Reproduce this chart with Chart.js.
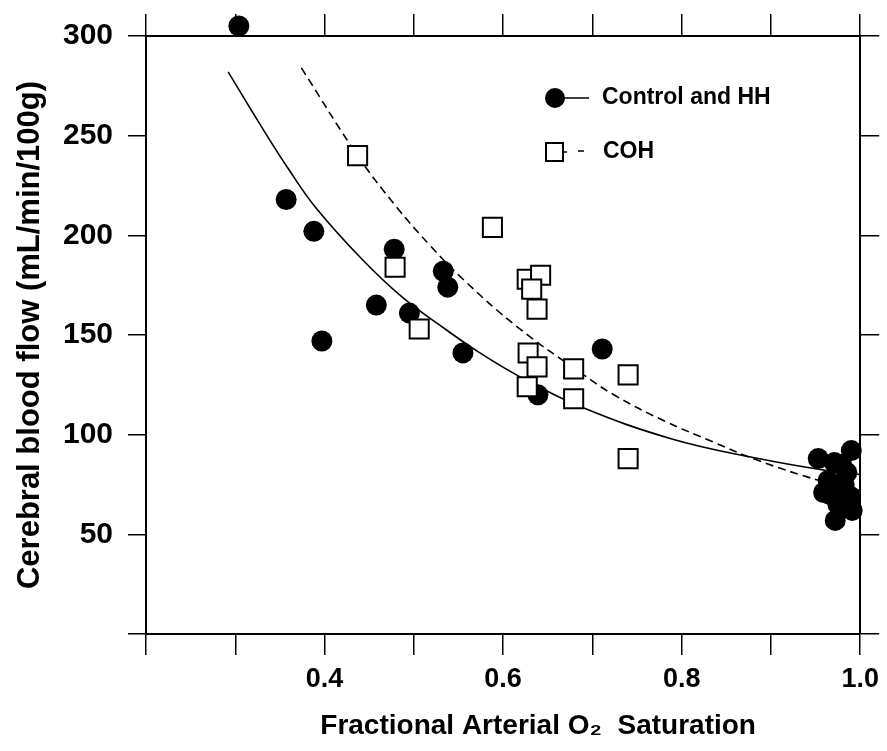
<!DOCTYPE html>
<html>
<head>
<meta charset="utf-8">
<script src="https://cdn.jsdelivr.net/npm/chart.js@4.4.1/dist/chart.umd.min.js"></script>
<style>
    html, body { margin: 0; padding: 0; background: #fff; }
    #wrap { width: 887px; height: 751px; }
</style>
</head>
<body>
<div id="wrap"><canvas id="cbf" width="887" height="751"></canvas></div>
<script>
// Cerebral blood flow vs fractional arterial O2 saturation

const controlX = [0.304, 0.357, 0.388, 0.397, 0.458, 0.478, 0.495, 0.533, 0.538, 0.555, 0.639, 0.711,
    0.953, 0.990, 0.971, 0.985, 0.964, 0.982, 0.966, 0.989, 0.975, 0.991, 0.972, 0.959, 0.979, 0.965];
const controlY = [305, 218, 202, 147, 165, 193, 161, 182, 174, 141, 120, 143,
    88, 92, 86, 81, 77, 75, 70, 69, 65, 62, 57, 71, 85, 71];

const cohX = [0.437, 0.588, 0.479, 0.506, 0.627, 0.642, 0.632, 0.638, 0.628, 0.638, 0.627, 0.679, 0.679, 0.740, 0.740];
const cohY = [240, 204, 184, 153, 178, 180, 173, 163, 141, 134, 124, 133, 118, 130, 88];

// fitted curves
const controlFitX = [0.292, 0.330, 0.360, 0.390, 0.442, 0.487, 0.532, 0.574, 0.619, 0.687, 0.788, 0.886, 0.962, 1.0];
const controlFitY = [282, 254, 233, 214, 188, 169, 154, 141, 129, 114, 98, 88, 82, 80];

const cohFitX = [0.374, 0.437, 0.481, 0.518, 0.555, 0.616, 0.687, 0.724, 0.780, 0.837, 0.886, 0.954, 1.0];
const cohFitY = [284, 240, 214, 195, 178, 154, 131, 120, 107, 96, 87, 77, 72];

const xLabels = { 4: '0.4', 6: '0.6', 8: '0.8', 10: '1.0' };
const yTicks = [50, 100, 150, 200, 250, 300];

const legendLabels = ['Control and HH', 'COH'];

function toPoints(xs, ys) {
    return xs.map((x, i) => ({ x: x, y: ys[i] }));
}

Chart.defaults.font.family = "'Liberation Sans', Arial, sans-serif";
Chart.defaults.color = '#000';

// legend drawn inside the plot, marker + line sample + text
const insideLegend = {
    id: 'insideLegend',
    afterDraw(chart) {
        const ctx = chart.ctx;
        const area = chart.chartArea;
        const mx = area.left + 409;
        const rows = [area.top + 62, area.top + 116];

        ctx.save();
        ctx.strokeStyle = '#000';
        ctx.fillStyle = '#000';

        // filled circle with solid line
        ctx.beginPath();
        ctx.arc(mx, rows[0], 10, 0, Math.PI * 2);
        ctx.fill();
        ctx.lineWidth = 1.5;
        ctx.beginPath();
        ctx.moveTo(mx + 8, rows[0]);
        ctx.lineTo(mx + 34, rows[0]);
        ctx.stroke();

        // open square with dashes
        ctx.lineWidth = 2;
        ctx.fillStyle = '#fff';
        ctx.fillRect(mx - 9, rows[1] - 9, 17, 18);
        ctx.strokeRect(mx - 9, rows[1] - 9, 17, 18);
        ctx.lineWidth = 1.5;
        ctx.beginPath();
        ctx.moveTo(mx + 8, rows[1]);
        ctx.lineTo(mx + 12, rows[1]);
        ctx.moveTo(mx + 23, rows[1] - 1);
        ctx.lineTo(mx + 29, rows[1] - 1);
        ctx.stroke();

        ctx.fillStyle = '#000';
        ctx.font = "bold 23px 'Liberation Sans', Arial, sans-serif";
        ctx.textBaseline = 'middle';
        ctx.textAlign = 'left';
        ctx.fillText(legendLabels[0], mx + 47, rows[0]);
        ctx.fillText(legendLabels[1], mx + 48, rows[1]);
        ctx.restore();
    }
};

const edgeGrid = (len) => ({
    drawOnChartArea: false,
    drawTicks: true,
    tickLength: len,
    color: '#000',
    lineWidth: 1.5
});
const edgeBorder = { display: true, color: '#000', width: 2 };

new Chart(document.getElementById('cbf').getContext('2d'), {
    type: 'scatter',
    data: {
        datasets: [
            {
                label: legendLabels[1],
                data: toPoints(cohX, cohY),
                pointStyle: 'rect',
                pointRadius: 13.5,
                backgroundColor: '#fff',
                borderColor: '#000',
                borderWidth: 2
            },
            {
                label: legendLabels[0],
                data: toPoints(controlX, controlY),
                pointStyle: 'circle',
                pointRadius: 10.5,
                backgroundColor: '#000',
                borderColor: '#000',
                borderWidth: 0,
                clip: false
            },
            {
                label: 'COH fit',
                data: toPoints(cohFitX, cohFitY),
                showLine: true,
                pointRadius: 0,
                borderColor: '#000',
                borderWidth: 1.6,
                borderDash: [8, 5],
                tension: 0.4
            },
            {
                label: 'Control fit',
                data: toPoints(controlFitX, controlFitY),
                showLine: true,
                pointRadius: 0,
                borderColor: '#000',
                borderWidth: 1.6,
                tension: 0.4
            }
        ]
    },
    options: {
        responsive: false,
        animation: false,
        layout: { padding: 0 },
        plugins: {
            legend: { display: false },
            tooltip: { enabled: false }
        },
        scales: {
            x: {
                type: 'linear',
                position: 'bottom',
                min: 0.2,
                max: 1.0,
                afterFit: (s) => { s.height = 117; },
                ticks: {
                    stepSize: 0.1,
                    autoSkip: false,
                    maxRotation: 0,
                    padding: 8,
                    font: { size: 27, weight: 'bold' },
                    callback: (v) => xLabels[Math.round(v * 10)] || ''
                },
                grid: edgeGrid(21),
                border: edgeBorder,
                title: {
                    display: true,
                    // leading spaces push the title right, as in the original
                    text: '\u2002\u2002\u2002\u2002\u2002Fractional Arterial O\u2082  Saturation',
                    font: { size: 28, weight: 'bold' },
                    padding: { top: 0, bottom: 8 }
                }
            },
            xTop: {
                type: 'linear',
                position: 'top',
                min: 0.2,
                max: 1.0,
                afterFit: (s) => { s.height = 36; },
                ticks: { display: false, stepSize: 0.1, autoSkip: false },
                grid: edgeGrid(22),
                border: edgeBorder
            },
            y: {
                type: 'linear',
                position: 'left',
                min: 0,
                max: 300,
                afterFit: (s) => { s.width = 146; },
                ticks: {
                    stepSize: 50,
                    autoSkip: false,
                    padding: 15,
                    font: { size: 30, weight: 'bold' },
                    callback: (v) => yTicks.includes(v) ? String(v) : ''
                },
                grid: edgeGrid(18),
                border: edgeBorder,
                title: {
                    display: true,
                    text: 'Cerebral blood flow (mL/min/100g)',
                    font: { size: 31, weight: 'bold' },
                    padding: { top: 12, bottom: 0 }
                }
            },
            yRight: {
                type: 'linear',
                position: 'right',
                min: 0,
                max: 300,
                afterFit: (s) => { s.width = 26; },
                ticks: { display: false, stepSize: 50, autoSkip: false },
                grid: edgeGrid(19),
                border: edgeBorder
            }
        }
    },
    plugins: [insideLegend]
});
</script>
</body>
</html>
